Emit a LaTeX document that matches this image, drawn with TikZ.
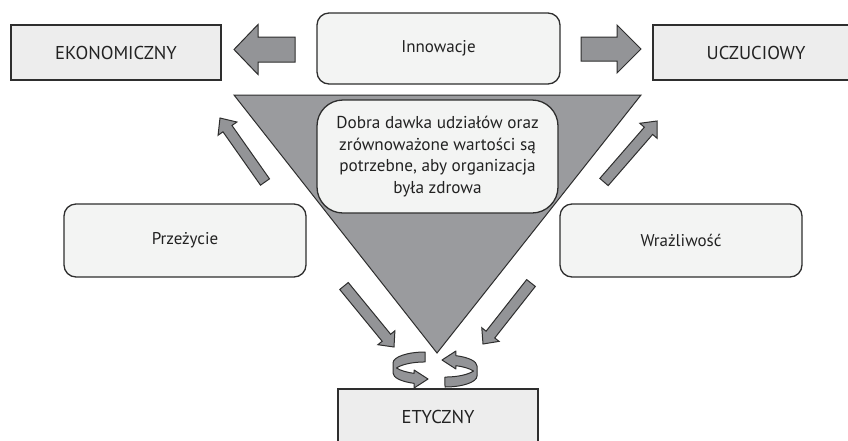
\documentclass[tikz,border=0pt]{standalone}
\usepackage{fontspec}
\setmainfont{PT Sans}
\usetikzlibrary{calc}
\definecolor{edge}{HTML}{2E2E2E}
\definecolor{boxfill}{HTML}{EDEDED}
\definecolor{roundfill}{HTML}{F3F4F3}
\definecolor{trigray}{HTML}{9A9B9E}
\definecolor{arrgray}{HTML}{939497}
\definecolor{txt}{HTML}{222222}
\tikzset{
  x=1pt,y=1pt,
  plainbox/.style={draw=edge, line width=1.3pt, fill=boxfill, rectangle, minimum width=210pt, minimum height=55pt, inner sep=0pt, text=txt, font=\fontsize{18.6}{22}\selectfont},
  roundbox/.style={draw=edge, line width=1.3pt, fill=roundfill, rectangle, rounded corners=12pt, minimum width=242pt, minimum height=72pt, inner sep=0pt, text=txt, font=\fontsize{17}{20}\selectfont},
  barrow/.style={draw=edge, line width=1pt, fill=arrgray, line join=miter},
  ribbon/.style={draw=edge, line width=1pt, fill=arrgray, line join=round},
}
% #1 tail, #2 tip, #3 half shaft, #4 half head, #5 head length
\newcommand\blockarrow[5]{%
  \coordinate (hb) at ($(#2)!#5!(#1)$);
  \draw[barrow] ($(#1)!#3!90:(#2)$) -- ($(hb)!#3!90:(#2)$) -- ($(hb)!#4!90:(#2)$)
    -- (#2) -- ($(hb)!#4!-90:(#2)$) -- ($(hb)!#3!-90:(#2)$) -- ($(#1)!#3!-90:(#2)$) -- cycle;
}
\newcommand\leftribbon{%
  \draw[ribbon] (425,-352)
    arc[start angle=90, end angle=180, x radius=32, y radius=11]
    -- (393,-373)
    arc[start angle=180, end angle=250, x radius=32, y radius=11]
    -- (414.1,-388) -- (428,-379) -- (414.1,-370) -- (414.1,-373.3)
    arc[start angle=250, end angle=207, x radius=32, y radius=11]
    arc[start angle=153, end angle=90, x radius=32, y radius=11]
    -- cycle;
}
\begin{document}
\begin{tikzpicture}
\useasboundingbox (0,0) rectangle (848,-440);
% triangle
\coordinate (tl) at (234,-95);
\coordinate (tr) at (641,-95);
\coordinate (tb) at (437,-353);
\draw[draw=edge, line width=1pt, fill=trigray, line join=miter] (tl) -- (tr) -- (tb) -- cycle;
% boxes
\node[plainbox] (eko) at (116,-52.5) {EKONOMICZNY};
\node[plainbox, minimum width=206pt] (ucz) at (756,-52.5) {UCZUCIOWY};
\node[plainbox, minimum width=200pt] (ety) at (438,-416.5) {ETYCZNY};
\node[roundbox, minimum width=243pt, minimum height=71pt] (inn) at (438.5,-48.5) {Innowacje};
\node[roundbox, minimum height=73pt] (prz) at (185,-240.5) {Przeżycie};
\node[roundbox, minimum height=73pt] (wra) at (681,-240.5) {Wrażliwość};
\node[roundbox, rounded corners=26pt, minimum width=241pt, minimum height=113pt, align=center,
      font=\fontsize{17.2}{21.5}\selectfont] (mid) at (437.5,-156.5)
  {Dobra dawka udziałów oraz\\zrównoważone wartości są\\potrzebne, aby organizacja\\była zdrowa};
% block arrows
\coordinate (a1t) at (295,-49.5); \coordinate (a1h) at (234,-49.5);
\coordinate (a2t) at (581,-49); \coordinate (a2h) at (641,-49);
\coordinate (a3t) at (265,-182); \coordinate (a3h) at (220,-118);
\coordinate (a4t) at (604,-182); \coordinate (a4h) at (657,-121);
\coordinate (a5t) at (344,-286); \coordinate (a5h) at (394,-347);
\coordinate (a6t) at (531,-283); \coordinate (a6h) at (483,-344);
\blockarrow{a1t}{a1h}{12.5pt}{25pt}{24pt}
\blockarrow{a2t}{a2h}{12pt}{24pt}{24pt}
\blockarrow{a3t}{a3h}{5.5pt}{11.5pt}{13pt}
\blockarrow{a4t}{a4h}{5.5pt}{11.5pt}{13pt}
\blockarrow{a5t}{a5h}{5.5pt}{11pt}{12pt}
\blockarrow{a6t}{a6h}{5.5pt}{11pt}{12pt}
% circular arrows
\leftribbon
\begin{scope}[rotate around={180:(435,-369.5)}]
\leftribbon
\end{scope}
\end{tikzpicture}
\end{document}
